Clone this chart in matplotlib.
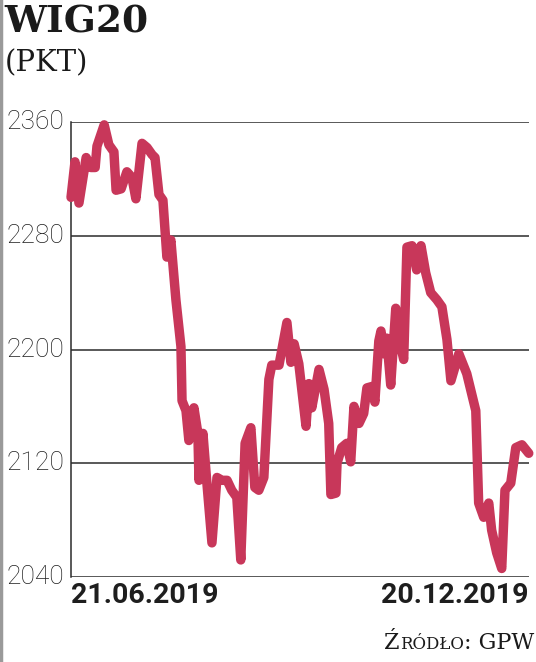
import matplotlib
matplotlib.use("Agg")
import matplotlib.pyplot as plt
from matplotlib.offsetbox import TextArea, HPacker, AnchoredOffsetbox

# WIG20 closing level, session index from 21.06.2019 (0) to 20.12.2019 (127)
session = [0, 1.1, 2.2, 4.2, 5.5, 6.7, 7.2, 9.2, 10.5, 11.9, 12.5, 13.9, 15.5,
           16.9, 18.0, 19.7, 21.1, 22.5, 23.3, 24.4, 25.5, 26.6, 27.7, 29.1,
           30.5, 30.8, 31.9, 32.7, 34.1, 35.2, 35.5, 36.6, 37.7, 39.1, 40.5,
           41.9, 43.3, 44.6, 46.0, 47.1, 48.3, 49.9, 51.0, 52.1, 53.5, 54.9,
           55.7, 57.7, 59.9, 61.0, 61.9, 63.2, 65.2, 66.0, 66.8, 68.8, 70.2,
           71.5, 72.1, 73.5, 73.8, 75.1, 76.5, 77.6, 78.5, 79.9, 81.2, 82.1,
           83.5, 84.3, 85.4, 86.0, 86.8, 87.6, 88.7, 90.1, 91.5, 92.3, 93.2,
           94.6, 95.9, 97.1, 98.4, 99.8, 101.5, 102.9, 104.3, 105.4, 107.6,
           109.8, 112.3, 113.1, 114.5, 115.9, 116.7, 118.1, 119.5, 120.4,
           122.0, 123.4, 125.1, 127.0]
wig20 = [2307, 2332, 2303, 2335, 2328, 2328, 2343, 2358, 2344, 2339, 2312,
         2313, 2325, 2321, 2306, 2345, 2342, 2337, 2335, 2309, 2305, 2265,
         2277, 2235, 2202, 2164, 2157, 2136, 2159, 2141, 2108, 2141, 2106,
         2064, 2110, 2108, 2108, 2101, 2096, 2052, 2134, 2145, 2103, 2101,
         2110, 2179, 2189, 2189, 2219, 2191, 2204, 2190, 2146, 2176, 2159,
         2186, 2172, 2148, 2098, 2099, 2120, 2131, 2134, 2121, 2160, 2148,
         2155, 2173, 2174, 2163, 2206, 2213, 2197, 2208, 2175, 2229, 2202,
         2193, 2272, 2273, 2256, 2273, 2254, 2240, 2235, 2230, 2207, 2178,
         2197, 2183, 2157, 2092, 2082, 2092, 2073, 2057, 2046, 2101, 2106,
         2131, 2133, 2127]

y_ticks = [2040, 2120, 2200, 2280, 2360]
date_labels = ["21.06.2019", "20.12.2019"]

line_color = "#C8375A"
grid_color = "#2b2b2b"
text_color = "#1e1e1e"

fig = plt.figure(figsize=(5.36, 6.62), dpi=100)
ax = fig.add_axes([0.1325, 0.1284, 0.854, 0.6873])

for v in y_ticks:
    ax.axhline(v, color=grid_color, lw=1.1, zorder=1)
ax.plot(session, wig20, color=line_color, lw=6.8, solid_joinstyle="round",
        solid_capstyle="round", zorder=3, clip_on=False)

ax.set_xlim(0, 127)
ax.set_ylim(2040, 2360)
for s in ["top", "right", "bottom"]:
    ax.spines[s].set_visible(False)
ax.spines["left"].set_color(grid_color)
ax.spines["left"].set_linewidth(1.1)
ax.set_xticks([])
ax.set_yticks(y_ticks)
ax.tick_params(axis="y", length=0, pad=5)
for lab in ax.get_yticklabels():
    lab.set_fontsize(19)
    lab.set_fontfamily("Roboto")
    lab.set_fontweight("light")
    lab.set_color(text_color)
    lab.set_verticalalignment("center")

ax.text(0, -0.012, date_labels[0], transform=ax.transAxes, ha="left", va="top",
        fontsize=20.5, fontweight="bold", color=text_color, family="Roboto")
ax.text(1, -0.012, date_labels[1], transform=ax.transAxes, ha="right", va="top",
        fontsize=20.5, fontweight="bold", color=text_color, family="Roboto")

fig.text(0.008, 0.995, "WIG20", ha="left", va="top", fontsize=27,
         fontweight="bold", family="DejaVu Serif", color="#1a1a1a")
fig.text(0.008, 0.925, "(PKT)", ha="left", va="top", fontsize=21,
         family="DejaVu Serif", color="#1a1a1a")

# source line in small caps
parts = [("Ź", 16), ("RÓDŁO", 12), (": GPW", 16)]
areas = [TextArea(t, textprops=dict(fontsize=s, family="DejaVu Serif",
                                    color="#1a1a1a")) for t, s in parts]
box = HPacker(children=areas, align="baseline", pad=0, sep=0)
anch = AnchoredOffsetbox(loc="lower right", child=box, frameon=False,
                         bbox_to_anchor=(0.996, 0.012),
                         bbox_transform=fig.transFigure, borderpad=0, pad=0)
fig.add_artist(anch)

# scanned edge at far left
fig.add_artist(plt.Line2D([0.002, 0.002], [0, 1], transform=fig.transFigure,
                          color="#9a9a9a", lw=2.5))

fig.savefig("out.png", dpi=100)
